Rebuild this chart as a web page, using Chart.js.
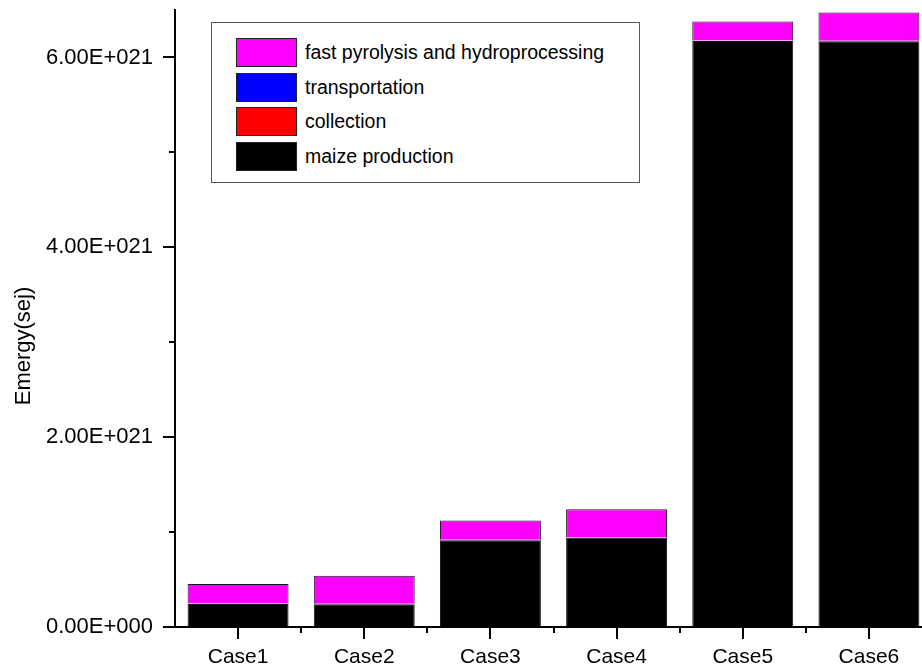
<!DOCTYPE html>
<html>
<head>
<meta charset="utf-8">
<script src="https://cdn.jsdelivr.net/npm/chart.js@4.4.1/dist/chart.umd.min.js"></script>
<style>
  html, body { margin: 0; padding: 0; background: #fff; overflow: hidden; }
  #wrap { position: relative; width: 922px; height: 671px; overflow: hidden; }
  #chart { position: absolute; left: 0; top: 0; }
  #legend {
    position: absolute; left: 211px; top: 22px; width: 427px; height: 159px;
    border: 1px solid #555; background: #fff; box-sizing: content-box;
    font-family: "Liberation Sans", Arial, sans-serif; font-size: 19.5px; color: #000;
  }
  #legend .row { position: absolute; left: 24px; height: 29px; display: flex; align-items: center; }
  #legend .sw { width: 59px; height: 27px; border: 1px solid #222; margin-right: 8px; }
</style>
</head>
<body>
<div id="wrap">
  <canvas id="chart" width="932" height="671"></canvas>
  <div id="legend"></div>
</div>
<script>
const cases = ['Case1', 'Case2', 'Case3', 'Case4', 'Case5', 'Case6'];
const maize = [0.243e21, 0.24e21, 0.914e21, 0.939e21, 6.174e21, 6.171e21];
const collectionVals = [0.002e21, 0.002e21, 0.002e21, 0.002e21, 0.002e21, 0.002e21];
const transport = [0.003e21, 0.003e21, 0.003e21, 0.003e21, 0.003e21, 0.003e21];
const pyrolysis = [0.205e21, 0.296e21, 0.202e21, 0.297e21, 0.2e21, 0.298e21];
const yMax = 6.5e21;
const yTicks = [0, 1e21, 2e21, 3e21, 4e21, 5e21, 6e21];
const yLabelled = [0, 2e21, 4e21, 6e21];

const font = '"Liberation Sans", Arial, sans-serif';

function sci(v) {
  if (v === 0) return '0.00E+000';
  const e = Math.floor(Math.log10(Math.abs(v)) + 1e-9);
  const m = v / Math.pow(10, e);
  return m.toFixed(2) + 'E+' + String(e).padStart(3, '0');
}

// Origin-style outward ticks: long on labelled values, short in between
const ticksPlugin = {
  id: 'originTicks',
  afterDraw(chart) {
    const { ctx, scales: { x, y } } = chart;
    ctx.save();
    ctx.strokeStyle = '#000';
    ctx.lineWidth = 2;
    ctx.beginPath();
    y.ticks.forEach((t) => {
      const py = Math.round(y.getPixelForValue(t.value));
      const len = yLabelled.includes(t.value) ? 12 : 6;
      ctx.moveTo(x.left - len, py);
      ctx.lineTo(x.left, py);
    });
    cases.forEach((c, i) => {
      const px = Math.round(x.getPixelForValue(i));
      ctx.moveTo(px, y.bottom);
      ctx.lineTo(px, y.bottom + 12);
      if (i > 0) {
        const pb = Math.round(x.getPixelForValue(i - 0.5));
        ctx.moveTo(pb, y.bottom);
        ctx.lineTo(pb, y.bottom + 6);
      }
    });
    ctx.moveTo(x.left - 3, y.bottom);
    ctx.lineTo(x.left, y.bottom);
    ctx.stroke();
    // y axis title
    ctx.fillStyle = '#000';
    ctx.font = '22px ' + font;
    ctx.textAlign = 'center';
    ctx.textBaseline = 'alphabetic';
    ctx.translate(30, 346);
    ctx.rotate(-Math.PI / 2);
    ctx.fillText('Emergy(sej)', 0, 0);
    ctx.restore();
  },
};

const chart = new Chart(document.getElementById('chart'), {
  type: 'bar',
  data: {
    labels: cases,
    datasets: [
      { label: 'maize production', data: maize, backgroundColor: '#000000' },
      { label: 'collection', data: collectionVals, backgroundColor: '#ff0000' },
      { label: 'transportation', data: transport, backgroundColor: '#0000ff' },
      { label: 'fast pyrolysis and hydroprocessing', data: pyrolysis, backgroundColor: '#ff00ff' },
    ].map((d) => ({ ...d, borderColor: '#1c1024', borderWidth: 1, barPercentage: 0.8, categoryPercentage: 1 })),
  },
  options: {
    responsive: false,
    animation: false,
    layout: { padding: { top: 10, right: 0, left: 0, bottom: 0 } },
    plugins: { legend: { display: false }, tooltip: { enabled: false } },
    scales: {
      x: {
        stacked: true,
        grid: { display: true, drawOnChartArea: false, drawTicks: false },
        border: { display: true, color: '#000', width: 2 },
        ticks: { color: '#000', padding: 18, font: { family: font, size: 21 }, maxRotation: 0 },
        afterFit(scale) { scale.height = 44; scale.paddingLeft = 0; scale.paddingRight = 0; },
      },
      y: {
        stacked: true,
        min: 0,
        max: yMax,
        grid: { display: true, drawOnChartArea: false, drawTicks: false },
        border: { display: true, color: '#000', width: 2 },
        ticks: {
          color: '#000',
          padding: 22,
          font: { family: font, size: 22 },
          callback: (v) => (yLabelled.includes(v) ? sci(v) : ''),
        },
        afterBuildTicks(scale) { scale.ticks = yTicks.map((value) => ({ value })); },
        afterFit(scale) { scale.width = 175; scale.paddingTop = 0; scale.paddingBottom = 0; },
      },
    },
  },
  plugins: [ticksPlugin],
});

// legend box built from the datasets, top item = top of stack
const legend = document.getElementById('legend');
chart.data.datasets.slice().reverse().forEach((d, i) => {
  const row = document.createElement('div');
  row.className = 'row';
  row.style.top = (15 + i * 34.7) + 'px';
  const sw = document.createElement('div');
  sw.className = 'sw';
  sw.style.background = d.backgroundColor;
  const label = document.createElement('span');
  label.textContent = d.label;
  row.appendChild(sw);
  row.appendChild(label);
  legend.appendChild(row);
});
</script>
</body>
</html>
